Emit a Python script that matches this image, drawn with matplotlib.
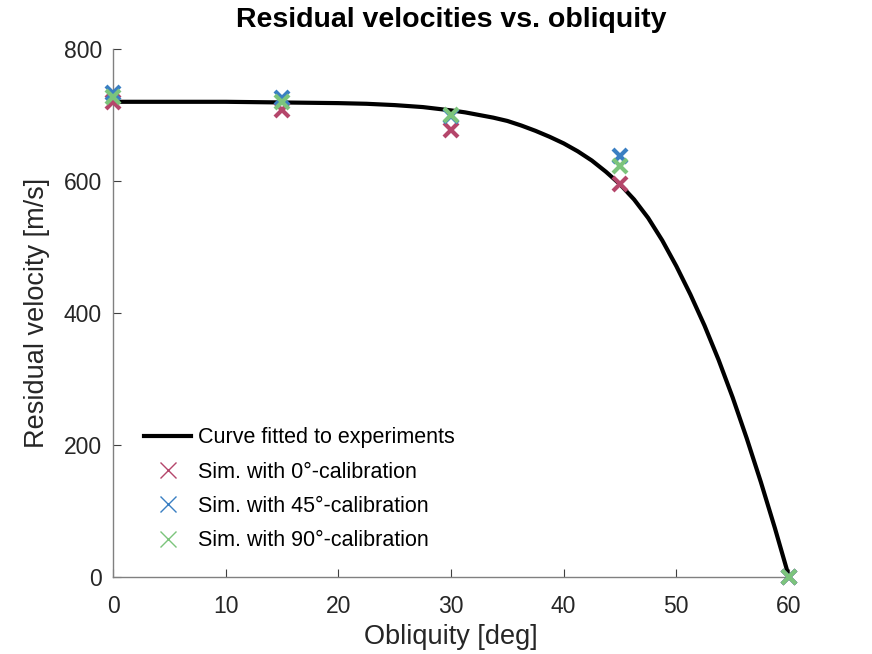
import matplotlib.pyplot as plt
from matplotlib.lines import Line2D

plt.rcParams['font.family'] = ['Liberation Sans', 'DejaVu Sans']

# fitted curve
curve_deg = [0, 5, 10, 15, 20, 22.5, 25, 27.5, 30, 31.25, 32.5, 33.75, 35, 36.25,
             37.5, 38.75, 40, 41.25, 42.5, 43.75, 45, 46.25, 47.5, 48.75, 50,
             51.25, 52.5, 53.75, 55, 56.25, 57.5, 58.75, 60]
curve_vel = [720, 720, 720, 719, 718, 717, 715, 712, 707, 704, 700, 696, 691, 684,
             676, 667, 657, 645, 631, 614, 595, 572, 544, 510, 471,
             428, 381, 329, 272, 210, 144, 74, 0]

# simulation results
sim_deg = [0, 15, 30, 45, 60]
sim_cal0 = [720, 707, 678, 596, 0]
sim_cal45 = [733, 726, 699, 638, 0]
sim_cal90 = [727, 720, 700, 623, 0]

labels = ['Curve fitted to experiments', 'Sim. with 0°-calibration',
          'Sim. with 45°-calibration', 'Sim. with 90°-calibration']
colors = ['#b5466b', '#3a7fc2', '#7cc47c']

fig = plt.figure(figsize=(8.72, 6.54), dpi=100)
ax = fig.add_axes([113 / 872, 1 - 577 / 654, (789 - 113) / 872, (577 - 49) / 654])

ax.plot(curve_deg, curve_vel, color='black', lw=3, zorder=2,
        solid_joinstyle='round', solid_capstyle='round')
for ys, c in zip([sim_cal0, sim_cal45, sim_cal90], colors):
    ax.plot(sim_deg, ys, linestyle='none', marker='x', ms=10, mew=3,
            color=c, clip_on=False, zorder=3)

ax.set_xlim(0, 60)
ax.set_ylim(0, 800)
ax.set_xticks(range(0, 61, 10))
ax.set_yticks(range(0, 801, 200))
for s in ['top', 'right']:
    ax.spines[s].set_visible(False)
for s in ['left', 'bottom']:
    ax.spines[s].set_color('#808080')
    ax.spines[s].set_linewidth(1)
ax.tick_params(direction='in', length=6, width=0.8, color='#404040',
               labelsize=16.5, labelcolor='#262626')
ax.tick_params(axis='x', pad=13)
ax.tick_params(axis='y', pad=8)

ax.set_xlabel('Obliquity [deg]', fontsize=19.5, color='#262626', labelpad=4)
ax.set_ylabel('Residual velocity [m/s]', fontsize=19.5, color='#262626', labelpad=10)
ax.set_title('Residual velocities vs. obliquity', fontsize=20.5, fontweight='bold', pad=16)

handles = [Line2D([], [], color='black', lw=3)]
handles += [Line2D([], [], linestyle='none', marker='x', ms=11, mew=1, color=c)
            for c in colors]
ax.legend(handles, labels, loc='lower left', bbox_to_anchor=(0.017, 0.012),
          frameon=False, fontsize=15.5, handlelength=2.2, labelspacing=0.62,
          handletextpad=0.3)

fig.savefig('out.png', dpi=100)
